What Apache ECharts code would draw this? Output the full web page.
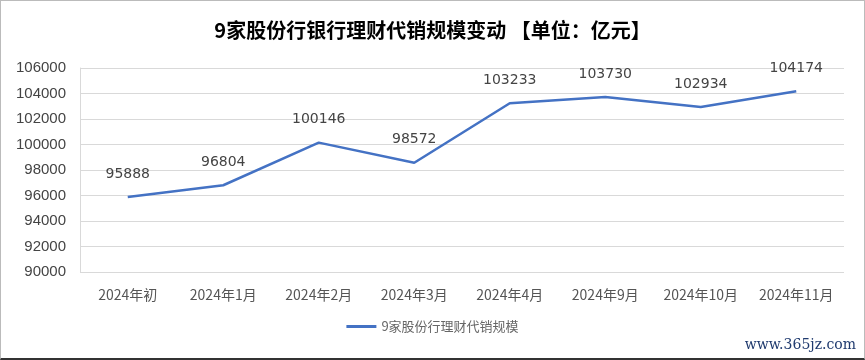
<!DOCTYPE html>
<html><head><meta charset="utf-8">
<script src="https://cdn.jsdelivr.net/npm/echarts@6/dist/echarts.min.js"></script>
<style>html,body{margin:0;padding:0;background:#fff}#c{width:865px;height:360px;box-sizing:border-box;border:1px solid #bbb;border-bottom:2px solid #333}</style>
</head><body><div id="c"></div>
<script>
const categories = ['2024年初','2024年1月','2024年2月','2024年3月','2024年4月','2024年9月','2024年10月','2024年11月'];
const values = [95888, 96804, 100146, 98572, 103233, 103730, 102934, 104174];
const seriesName = '9家股份行理财代销规模';
const titleText = '9家股份行银行理财代销规模变动 【单位：亿元】';
const watermark = 'www.365jz.com';

const chart = echarts.init(document.getElementById('c'));
chart.setOption({
  animation: false,
  backgroundColor: '#fff',
  title: {text: titleText, left: 'center', top: 14,
    textStyle: {fontSize: 20, fontWeight: 'bold', color: '#000', fontFamily: 'Noto Sans CJK SC'}},
  legend: {bottom: 20, left: 'center', itemWidth: 30, itemHeight: 3, icon: 'rect', itemGap: 4,
    itemStyle: {color: '#4472C4', opacity: 1},
    textStyle: {color: '#666', fontSize: 13, fontFamily: 'Noto Sans CJK SC'}},
  grid: {left: 79, right: 20, top: 67, bottom: 86},
  xAxis: {type: 'category', data: categories, boundaryGap: true,
    axisLine: {show: false}, axisTick: {show: false},
    axisLabel: {interval: 0, color: '#555', fontSize: 14, margin: 16, fontFamily: 'Noto Sans CJK SC'}},
  yAxis: {type: 'value', min: 90000, max: 106000, interval: 2000,
    axisLine: {show: true, lineStyle: {color: '#d9d9d9'}},
    splitLine: {lineStyle: {color: '#d9d9d9'}},
    axisLabel: {color: '#444', fontSize: 15, margin: 14, fontFamily: 'Liberation Sans',
      formatter: v => String(v)}},
  series: [{name: seriesName, type: 'line', data: values, symbol: 'circle', symbolSize: 0,
    lineStyle: {color: '#4472C4', width: 2.5}, itemStyle: {color: '#4472C4'},
    label: {show: true, position: 'top', distance: 16, color: '#444', fontSize: 14, fontFamily: 'DejaVu Sans'}}],
  graphic: [{type: 'text', right: 8, bottom: 6,
    style: {text: watermark, fill: '#1f3a6e', fontSize: 14, fontFamily: 'DejaVu Serif'}}]
});
</script></body></html>
